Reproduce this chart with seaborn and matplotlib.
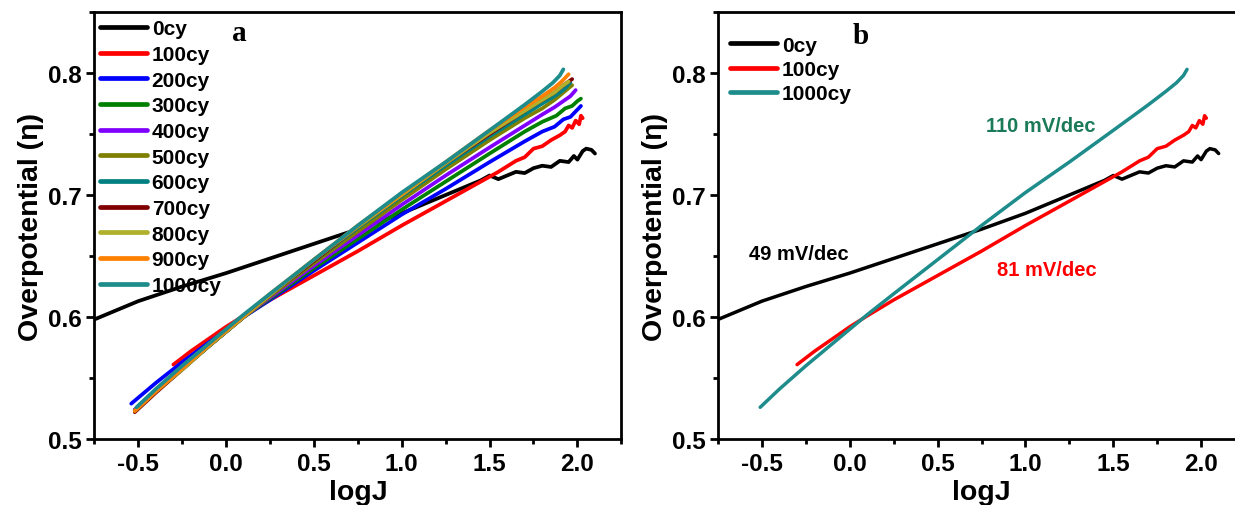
"""
Tafel plots: overpotential vs logJ after repeated cycling.
(a) all cycle counts, (b) 0, 100 and 1000 cycles with slopes.
"""
import numpy as np
import pandas as pd
import matplotlib
matplotlib.use("Agg")
import matplotlib.pyplot as plt
from matplotlib.ticker import AutoMinorLocator
import seaborn as sns

# ---- data (logJ, overpotential) ----
x_0cy = [-0.75, -0.5, -0.25, 0.0, 0.25, 0.5, 0.75, 1.0, 1.2, 1.35, 1.45, 1.5, 1.55, 1.6,
         1.65, 1.7, 1.75, 1.8, 1.85, 1.9, 1.95, 1.98, 2.0, 2.03, 2.05, 2.08, 2.1]
y_0cy = [0.598, 0.613, 0.625, 0.636, 0.648, 0.660, 0.672, 0.685, 0.697, 0.706, 0.712, 0.716,
         0.713, 0.716, 0.719, 0.718, 0.722, 0.724, 0.723, 0.728, 0.727, 0.732, 0.729, 0.736,
         0.738, 0.737, 0.734]

x_100cy = [-0.3, -0.2, -0.1, 0.0, 0.1, 0.25, 0.5, 0.75, 1.0, 1.25, 1.4, 1.55, 1.65, 1.7,
           1.75, 1.8, 1.85, 1.9, 1.93, 1.95, 1.97, 1.99, 2.01, 2.02, 2.03]
y_100cy = [0.561, 0.572, 0.582, 0.592, 0.601, 0.614, 0.634, 0.654, 0.675, 0.695, 0.707, 0.719,
           0.728, 0.731, 0.738, 0.740, 0.745, 0.749, 0.752, 0.757, 0.755, 0.761, 0.758, 0.765,
           0.763]

x_200cy = [-0.54, -0.4, -0.25, -0.1, 0.0, 0.1, 0.25, 0.5, 0.75, 1.0, 1.25, 1.5, 1.7, 1.8,
           1.87, 1.92, 1.96, 2.0, 2.02]
y_200cy = [0.529, 0.546, 0.563, 0.579, 0.589, 0.600, 0.614, 0.638, 0.661, 0.684, 0.705, 0.727,
           0.744, 0.752, 0.756, 0.762, 0.764, 0.770, 0.773]

x_300cy = [-0.52, -0.4, -0.25, -0.1, 0.0, 0.1, 0.25, 0.5, 0.75, 1.0, 1.25, 1.5, 1.7, 1.8,
           1.88, 1.93, 1.97, 2.0, 2.02]
y_300cy = [0.524, 0.540, 0.558, 0.576, 0.588, 0.600, 0.615, 0.640, 0.664, 0.688, 0.711, 0.734,
           0.752, 0.760, 0.765, 0.771, 0.773, 0.777, 0.779]

x_400cy = [-0.52, -0.4, -0.25, -0.1, 0.0, 0.1, 0.25, 0.5, 0.75, 1.0, 1.25, 1.5, 1.7, 1.8,
           1.87, 1.92, 1.96, 1.99]
y_400cy = [0.524, 0.540, 0.558, 0.576, 0.588, 0.600, 0.616, 0.642, 0.667, 0.692, 0.716, 0.739,
           0.757, 0.766, 0.772, 0.777, 0.781, 0.786]

x_500cy = [-0.52, -0.4, -0.25, -0.1, 0.0, 0.1, 0.25, 0.5, 0.75, 1.0, 1.25, 1.5, 1.7, 1.8,
           1.87, 1.92, 1.97]
y_500cy = [0.523, 0.539, 0.558, 0.576, 0.588, 0.600, 0.617, 0.644, 0.670, 0.696, 0.721, 0.745,
           0.763, 0.771, 0.778, 0.784, 0.790]

x_600cy = [-0.52, -0.4, -0.25, -0.1, 0.0, 0.1, 0.25, 0.5, 0.75, 1.0, 1.25, 1.5, 1.7, 1.8,
           1.87, 1.92, 1.96]
y_600cy = [0.523, 0.539, 0.557, 0.576, 0.588, 0.600, 0.618, 0.646, 0.673, 0.699, 0.724, 0.748,
           0.766, 0.775, 0.781, 0.786, 0.792]

x_700cy = [-0.52, -0.4, -0.25, -0.1, 0.0, 0.1, 0.25, 0.5, 0.75, 1.0, 1.25, 1.5, 1.7, 1.8,
           1.87, 1.92, 1.97]
y_700cy = [0.522, 0.538, 0.557, 0.576, 0.588, 0.600, 0.618, 0.646, 0.674, 0.700, 0.726, 0.750,
           0.769, 0.778, 0.784, 0.790, 0.795]

x_800cy = [-0.52, -0.4, -0.25, -0.1, 0.0, 0.1, 0.25, 0.5, 0.75, 1.0, 1.25, 1.5, 1.7, 1.8,
           1.87, 1.91, 1.95]
y_800cy = [0.523, 0.539, 0.557, 0.576, 0.588, 0.600, 0.618, 0.647, 0.674, 0.700, 0.726, 0.751,
           0.769, 0.778, 0.784, 0.789, 0.793]

x_900cy = [-0.52, -0.4, -0.25, -0.1, 0.0, 0.1, 0.25, 0.5, 0.75, 1.0, 1.25, 1.5, 1.7, 1.8,
           1.87, 1.91, 1.95]
y_900cy = [0.523, 0.539, 0.558, 0.577, 0.589, 0.601, 0.619, 0.647, 0.675, 0.701, 0.727, 0.753,
           0.772, 0.781, 0.788, 0.793, 0.799]

x_1000cy = [-0.51, -0.4, -0.25, -0.1, 0.0, 0.1, 0.25, 0.5, 0.75, 1.0, 1.25, 1.5, 1.7, 1.8,
            1.86, 1.9, 1.92]
y_1000cy = [0.526, 0.541, 0.560, 0.578, 0.590, 0.602, 0.619, 0.647, 0.675, 0.702, 0.727, 0.753,
            0.774, 0.785, 0.792, 0.798, 0.803]

labels = ["0cy", "100cy", "200cy", "300cy", "400cy", "500cy",
          "600cy", "700cy", "800cy", "900cy", "1000cy"]
xs = [x_0cy, x_100cy, x_200cy, x_300cy, x_400cy, x_500cy,
      x_600cy, x_700cy, x_800cy, x_900cy, x_1000cy]
ys = [y_0cy, y_100cy, y_200cy, y_300cy, y_400cy, y_500cy,
      y_600cy, y_700cy, y_800cy, y_900cy, y_1000cy]
colors = ["#000000", "#FF0000", "#0000FF", "#008000", "#8000FF", "#808000",
          "#008080", "#800000", "#B0B02C", "#FF8000", "#1F8C8C"]

slope_labels = ["49 mV/dec", "81 mV/dec", "110 mV/dec"]
slope_x = [-0.29, 1.12, 1.09]
slope_y = [0.652, 0.639, 0.757]
slope_colors = ["#000000", "#FF0000", "#1B7A57"]

# long-form frame
frames = []
for lab, xx, yy in zip(labels, xs, ys):
    frames.append(pd.DataFrame({"logJ": xx, "eta": yy, "cycle": lab}))
df = pd.concat(frames, ignore_index=True)
pal = dict(zip(labels, colors))

sns.set_theme(style="ticks")
plt.rcParams['font.family'] = ['Liberation Sans', 'DejaVu Sans']
plt.rcParams['font.weight'] = 'bold'
plt.rcParams['axes.linewidth'] = 2.0
plt.rcParams['axes.edgecolor'] = 'black'
plt.rcParams['axes.labelcolor'] = 'black'
plt.rcParams['text.color'] = 'black'
plt.rcParams['xtick.color'] = 'black'
plt.rcParams['ytick.color'] = 'black'
plt.rcParams['axes.unicode_minus'] = False

fig = plt.figure(figsize=(12.35, 5.06), dpi=100)
ax_a = fig.add_axes([0.0764, 0.1304, 0.4267, 0.8439])
ax_b = fig.add_axes([0.5814, 0.1304, 0.4267, 0.8439])


def style_axis(ax):
    ax.set_xlim(-0.75, 2.25)
    ax.set_ylim(0.5, 0.85)
    ax.set_xticks([-0.5, 0.0, 0.5, 1.0, 1.5, 2.0])
    ax.set_yticks([0.5, 0.6, 0.7, 0.8])
    ax.xaxis.set_minor_locator(AutoMinorLocator(2))
    ax.yaxis.set_minor_locator(AutoMinorLocator(2))
    ax.tick_params(which='major', direction='out', length=6, width=2,
                   labelsize=17.5, color='black', labelcolor='black', pad=3)
    ax.tick_params(which='minor', direction='out', length=3.5, width=2, color='black')
    for t in ax.get_xticklabels() + ax.get_yticklabels():
        t.set_fontweight('bold')
    ax.set_xlabel("logJ", fontsize=20.5, fontweight='bold', labelpad=3, color='black')
    ax.set_ylabel("Overpotential (η)", fontsize=20.5, fontweight='bold', labelpad=3,
                  color='black')
    for s in ax.spines.values():
        s.set_visible(True)
        s.set_linewidth(2.0)
        s.set_color('black')


# ---- panel a ----
sns.lineplot(data=df, x="logJ", y="eta", hue="cycle", hue_order=labels,
             palette=pal, sort=False, estimator=None, linewidth=2.7,
             legend=False, ax=ax_a)
style_axis(ax_a)
leg_a = ax_a.legend(handles=ax_a.lines, labels=labels, loc='upper left',
                    bbox_to_anchor=(0.0, 0.995), frameon=False, fontsize=15,
                    handlelength=2.3, handletextpad=0.2, labelspacing=0.32,
                    borderpad=0.25, borderaxespad=0.0)
for t in leg_a.get_texts():
    t.set_fontweight('bold')
for h in leg_a.get_lines():
    h.set_linewidth(3.4)
leg_a.set_zorder(1)
ax_a.text(0.276, 0.953, "a", transform=ax_a.transAxes, ha='center', va='center',
          fontsize=21, fontweight='bold', family='Liberation Serif')

# ---- panel b ----
sel = ["0cy", "100cy", "1000cy"]
df_b = df[df["cycle"].isin(sel)]
sns.lineplot(data=df_b, x="logJ", y="eta", hue="cycle", hue_order=sel,
             palette=pal, sort=False, estimator=None, linewidth=2.5,
             legend=False, ax=ax_b)
style_axis(ax_b)
ax_b.spines['right'].set_visible(False)
leg_b = ax_b.legend(handles=ax_b.lines, labels=sel, loc='upper left',
                    bbox_to_anchor=(0.012, 0.957), frameon=False, fontsize=15,
                    handlelength=2.3, handletextpad=0.2, labelspacing=0.26,
                    borderpad=0.25, borderaxespad=0.0)
for t in leg_b.get_texts():
    t.set_fontweight('bold')
for h in leg_b.get_lines():
    h.set_linewidth(3.4)
ax_b.text(0.27, 0.944, "b", transform=ax_b.transAxes, ha='center', va='center',
          fontsize=21, fontweight='bold', family='Liberation Serif')
for lab, sx, sy, sc in zip(slope_labels, slope_x, slope_y, slope_colors):
    ax_b.text(sx, sy, lab, color=sc, fontsize=14.5, fontweight='bold',
              ha='center', va='center')

fig.savefig("out.png", dpi=100)
